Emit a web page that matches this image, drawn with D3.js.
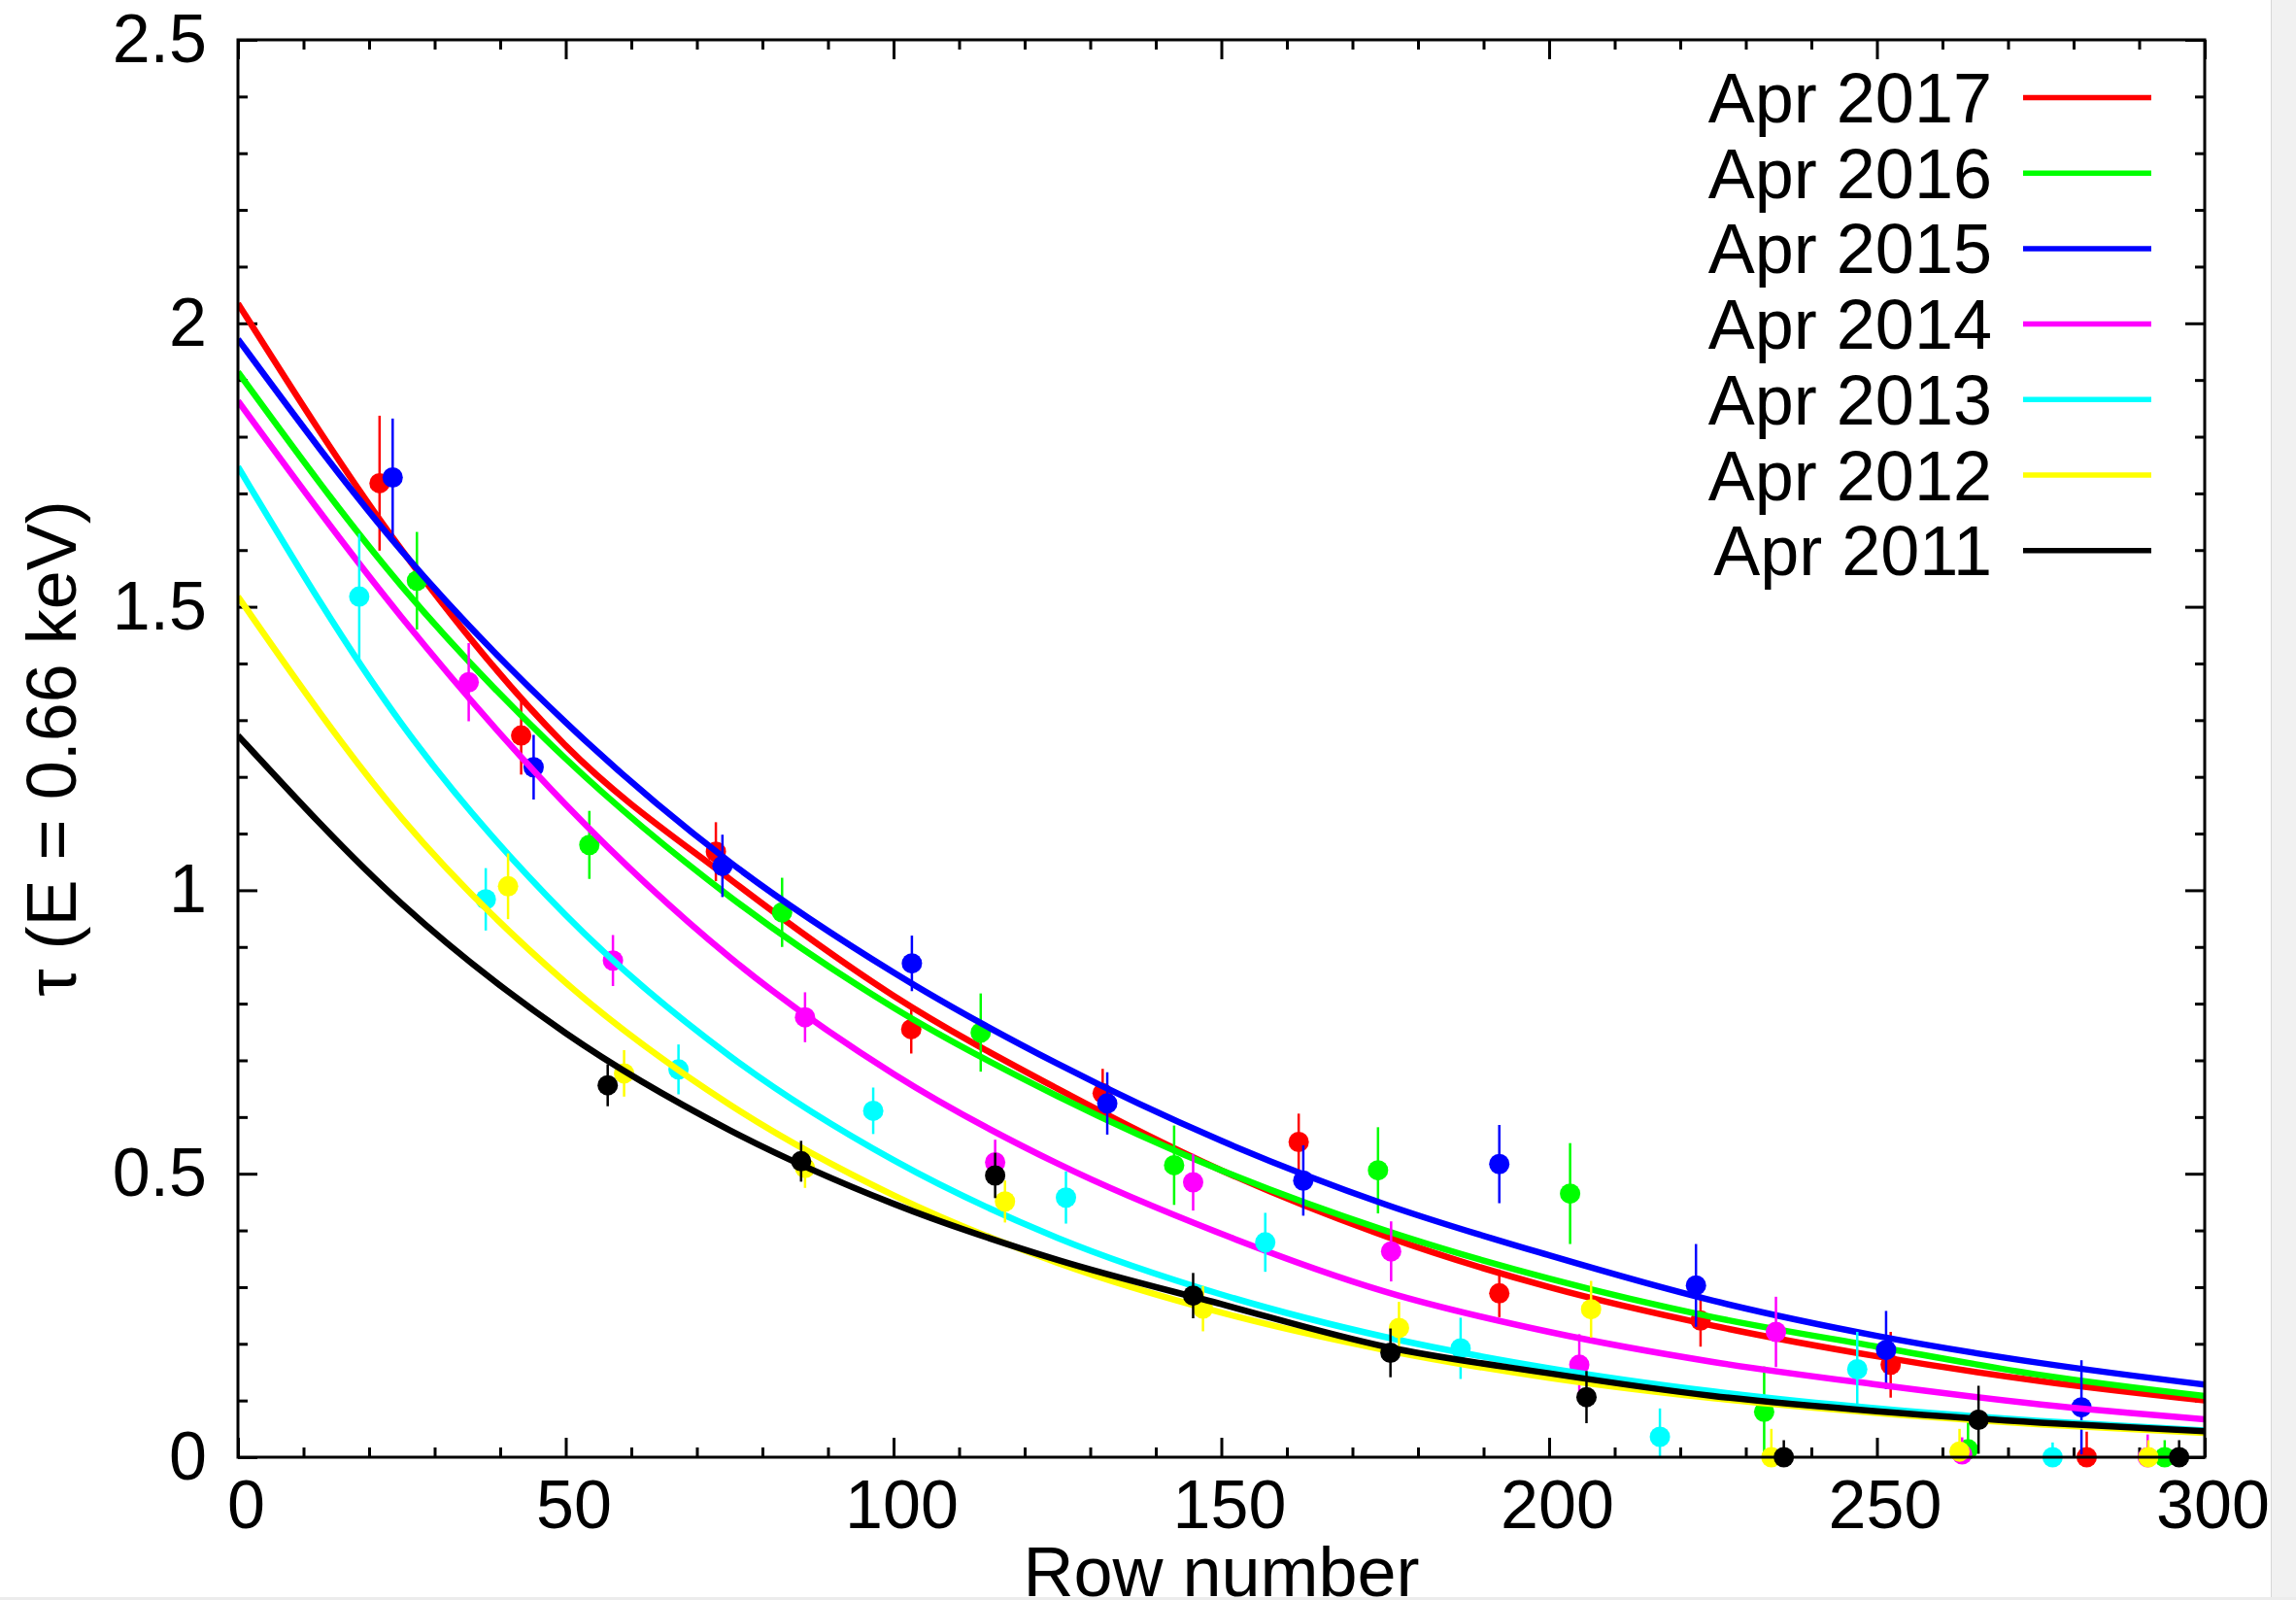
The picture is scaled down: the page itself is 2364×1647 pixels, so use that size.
<!DOCTYPE html>
<html>
<head>
<meta charset="utf-8">
<script src="https://cdn.jsdelivr.net/npm/d3@7"></script>
<style>
  body { margin: 0; background: #fff; }
  svg { display: block; font-family: "Liberation Sans", Arial, Helvetica, sans-serif; }
</style>
</head>
<body>
<svg id="chart"></svg>
<script>
// legend names, newest first (also the drawing order)
const years = ['Apr 2017', 'Apr 2016', 'Apr 2015', 'Apr 2014', 'Apr 2013', 'Apr 2012', 'Apr 2011']

// measured points: [row, tau, error]
const pts2017 = [[21.6, 1.718, 0.119], [43.2, 1.273, 0.069], [72.9, 1.068, 0.052], [102.7, 0.755, 0.043], [131.9, 0.642, 0.043],
  [161.8, 0.556, 0.05], [192.4, 0.289, 0.042], [223.1, 0.241, 0.046], [252.1, 0.163, 0.058], [282.0, 0.0, 0.045]]
const pts2016 = [[27.3, 1.546, 0.086], [53.6, 1.08, 0.06], [83.0, 0.961, 0.061], [113.3, 0.749, 0.069], [142.8, 0.515, 0.07],
  [173.9, 0.506, 0.076], [203.2, 0.465, 0.089], [232.8, 0.08, 0.08], [263.9, 0.014, 0.05], [293.9, 0.0, 0.03]]
const pts2015 = [[23.6, 1.728, 0.104], [45.1, 1.217, 0.057], [73.9, 1.043, 0.055], [102.8, 0.871, 0.049], [132.6, 0.624, 0.055],
  [162.5, 0.488, 0.062], [192.4, 0.517, 0.069], [222.4, 0.303, 0.073], [251.4, 0.189, 0.069], [281.2, 0.088, 0.083]]
const pts2014 = [[35.2, 1.367, 0.069], [57.2, 0.876, 0.045], [86.5, 0.776, 0.044], [115.5, 0.52, 0.04], [145.7, 0.485, 0.05],
  [175.9, 0.363, 0.053], [204.6, 0.163, 0.054], [234.6, 0.221, 0.062], [263.0, 0.005, 0.03], [291.3, 0.0, 0.04]]
const pts2013 = [[18.5, 1.518, 0.111], [37.8, 0.984, 0.055], [67.2, 0.684, 0.044], [96.9, 0.611, 0.041], [126.3, 0.458, 0.046],
  [156.7, 0.379, 0.052], [186.5, 0.192, 0.054], [216.9, 0.036, 0.05], [247.0, 0.155, 0.066], [276.8, 0.0, 0.026]]
const pts2012 = [[41.2, 1.007, 0.058], [58.9, 0.677, 0.041], [86.5, 0.51, 0.035], [117.0, 0.451, 0.037], [147.2, 0.262, 0.04],
  [177.1, 0.228, 0.046], [206.4, 0.261, 0.05], [233.9, 0.0, 0.05], [262.6, 0.01, 0.04], [291.4, 0.0, 0.03]]
const pts2011 = [[56.4, 0.656, 0.037], [85.9, 0.522, 0.036], [115.5, 0.497, 0.04], [145.7, 0.285, 0.04], [175.8, 0.184, 0.043],
  [205.7, 0.106, 0.046], [235.8, 0.0, 0.03], [265.5, 0.066, 0.06], [296.1, 0.0, 0.03]]

// fitted curves at these rows
const fitRows = [0, 25, 50, 75, 100, 125, 150, 175, 200, 225, 250, 275, 300]
const fit2017 = [2.035, 1.60, 1.255, 1.02, 0.814, 0.65, 0.506, 0.39, 0.30, 0.232, 0.178, 0.134, 0.10]
const fit2016 = [1.914, 1.536, 1.232, 0.989, 0.793, 0.637, 0.506, 0.40, 0.315, 0.247, 0.195, 0.145, 0.108]
const fit2015 = [1.972, 1.598, 1.296, 1.05, 0.855, 0.694, 0.558, 0.446, 0.356, 0.276, 0.214, 0.166, 0.128]
const fit2014 = [1.863, 1.481, 1.151, 0.882, 0.676, 0.518, 0.394, 0.292, 0.221, 0.168, 0.128, 0.093, 0.067]
const fit2013 = [1.747, 1.293, 0.956, 0.708, 0.524, 0.387, 0.287, 0.212, 0.157, 0.116, 0.086, 0.064, 0.047]
const fit2012 = [1.518, 1.127, 0.837, 0.622, 0.462, 0.343, 0.255, 0.189, 0.140, 0.104, 0.078, 0.058, 0.043]
const fit2011 = [1.273, 0.976, 0.748, 0.577, 0.447, 0.348, 0.27, 0.195, 0.148, 0.108, 0.081, 0.061, 0.046]

const xTicks = [0, 50, 100, 150, 200, 250, 300]
const yTicks = [0, 0.5, 1, 1.5, 2, 2.5]

const colors = ['#ff0000', '#00ff00', '#0000ff', '#ff00ff', '#00ffff', '#ffff00', '#000000']
const allPts = [pts2017, pts2016, pts2015, pts2014, pts2013, pts2012, pts2011]
const allFits = [fit2017, fit2016, fit2015, fit2014, fit2013, fit2012, fit2011]

const series = years.map((name, i) => ({
  name,
  color: colors[i],
  points: allPts[i],
  fit: fitRows.map((r, j) => [r, allFits[i][j]])
}))

const W = 2364, H = 1647
const margin = { left: 245, right: 94, top: 41, bottom: 147 }
const innerW = W - margin.left - margin.right
const innerH = H - margin.top - margin.bottom

const svg = d3.select('#chart')
  .attr('width', W)
  .attr('height', H)

svg.append('rect').attr('width', W).attr('height', H).attr('fill', '#fff')
// grey window edge on the right and bottom
svg.append('rect').attr('x', 2338).attr('y', 0).attr('width', W - 2338).attr('height', H).attr('fill', '#f1f1f1')
svg.append('line').attr('x1', 2338.5).attr('x2', 2338.5).attr('y1', 0).attr('y2', H).attr('stroke', '#d6d6d6').attr('stroke-width', 1)
svg.append('rect').attr('x', 0).attr('y', 1644).attr('width', W).attr('height', 3).attr('fill', '#ececec')

const xScale = d3.scaleLinear().domain([0, 300]).range([0, innerW])
const yScale = d3.scaleLinear().domain([0, 2.5]).range([innerH, 0])

const g = svg.append('g').attr('transform', `translate(${margin.left},${margin.top})`)

g.append('clipPath').attr('id', 'plotclip')
  .append('rect').attr('width', innerW).attr('height', innerH)

/* AXES: inner ticks on all four sides */
const fmt = d3.format('~g')
const minorX = d3.range(0, 301, 10).filter(v => v % 50 !== 0)
const minorY = d3.range(0, 26).map(v => v / 10).filter(v => Math.round(v * 10) % 5 !== 0)

function styleAxis(sel) {
  sel.select('.domain').remove()
  sel.selectAll('.tick line').attr('stroke', '#000').attr('stroke-width', 3)
  sel.selectAll('.tick text').attr('fill', '#000').style('font-size', '70px')
}

g.append('g').attr('transform', `translate(0,${innerH})`)
  .call(d3.axisBottom(xScale).tickValues(xTicks).tickFormat(fmt).tickSizeInner(-20).tickSizeOuter(0).tickPadding(23))
  .call(styleAxis)
  .call(s => s.selectAll('.tick text').attr('dx', 8))
g.append('g').attr('transform', `translate(0,${innerH})`)
  .call(d3.axisBottom(xScale).tickValues(minorX).tickFormat('').tickSizeInner(-10).tickSizeOuter(0))
  .call(styleAxis)
g.append('g')
  .call(d3.axisTop(xScale).tickValues(xTicks).tickFormat('').tickSizeInner(-20).tickSizeOuter(0))
  .call(styleAxis)
g.append('g')
  .call(d3.axisTop(xScale).tickValues(minorX).tickFormat('').tickSizeInner(-10).tickSizeOuter(0))
  .call(styleAxis)

g.append('g')
  .call(d3.axisLeft(yScale).tickValues(yTicks).tickFormat(fmt).tickSizeInner(-20).tickSizeOuter(0).tickPadding(32))
  .call(styleAxis)
g.append('g')
  .call(d3.axisLeft(yScale).tickValues(minorY).tickFormat('').tickSizeInner(-10).tickSizeOuter(0))
  .call(styleAxis)
g.append('g').attr('transform', `translate(${innerW},0)`)
  .call(d3.axisRight(yScale).tickValues(yTicks).tickFormat('').tickSizeInner(-20).tickSizeOuter(0))
  .call(styleAxis)
g.append('g').attr('transform', `translate(${innerW},0)`)
  .call(d3.axisRight(yScale).tickValues(minorY).tickFormat('').tickSizeInner(-10).tickSizeOuter(0))
  .call(styleAxis)

/* DATA: error bars + points, then the fitted curve, per series */
const line = d3.line()
  .x(d => xScale(d[0]))
  .y(d => yScale(d[1]))
  .curve(d3.curveMonotoneX)

series.forEach(s => {
  const sg = g.append('g')

  sg.append('g').attr('clip-path', 'url(#plotclip)')
    .selectAll('line')
    .data(s.points)
    .enter().append('line')
    .attr('x1', d => xScale(d[0]))
    .attr('x2', d => xScale(d[0]))
    .attr('y1', d => yScale(d[1] - d[2]))
    .attr('y2', d => yScale(d[1] + d[2]))
    .attr('stroke', s.color)
    .attr('stroke-width', 2.5)

  sg.selectAll('circle')
    .data(s.points)
    .enter().append('circle')
    .attr('cx', d => xScale(d[0]))
    .attr('cy', d => yScale(d[1]))
    .attr('r', 10.5)
    .attr('fill', s.color)

  sg.append('path')
    .datum(s.fit)
    .attr('clip-path', 'url(#plotclip)')
    .attr('d', line)
    .attr('fill', 'none')
    .attr('stroke', s.color)
    .attr('stroke-width', 6.5)
})

// frame
g.append('rect')
  .attr('width', innerW).attr('height', innerH)
  .attr('fill', 'none').attr('stroke', '#000').attr('stroke-width', 3)

/* LEGEND */
const legend = g.append('g').attr('transform', `translate(${2051 - margin.left},${126 - margin.top})`)
series.forEach((s, i) => {
  const row = legend.append('g').attr('transform', `translate(0,${i * 77.7})`)
  row.append('text')
    .attr('text-anchor', 'end')
    .style('font-size', '72px')
    .attr('fill', '#000')
    .text(s.name)
  row.append('line')
    .attr('x1', 32).attr('x2', 164)
    .attr('y1', -25.5).attr('y2', -25.5)
    .attr('stroke', s.color)
    .attr('stroke-width', 5.5)
})

/* AXIS TITLES */
svg.append('text')
  .attr('x', margin.left + innerW / 2)
  .attr('y', 1643)
  .attr('text-anchor', 'middle')
  .style('font-size', '72px')
  .text('Row number')

svg.append('text')
  .attr('transform', `translate(78,${margin.top + innerH / 2}) rotate(-90)`)
  .attr('text-anchor', 'middle')
  .style('font-size', '72px')
  .text('τ (E = 0.66 keV)')
</script>
</body>
</html>
